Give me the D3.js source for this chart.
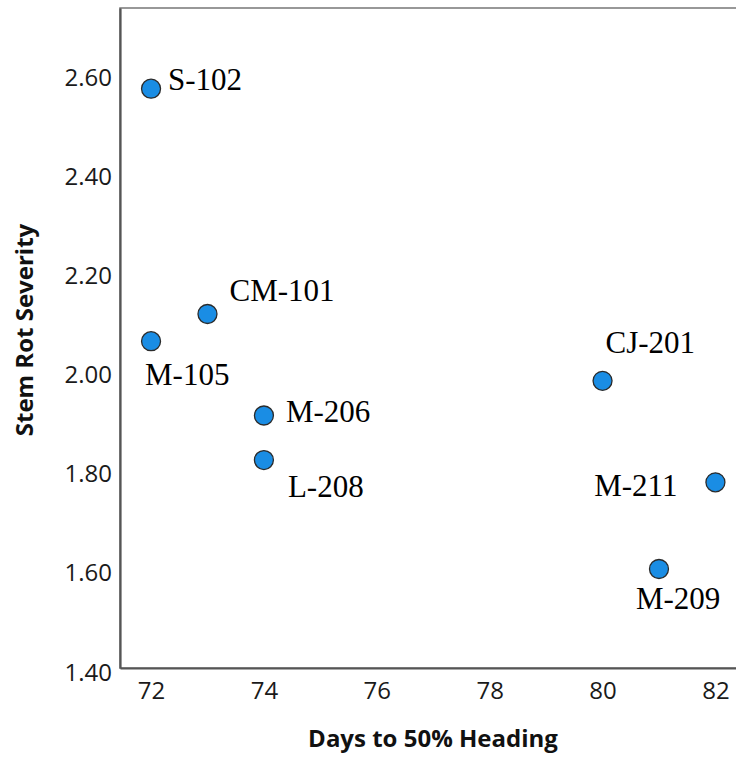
<!DOCTYPE html>
<html>
<head>
<meta charset="utf-8">
<script src="https://cdn.jsdelivr.net/npm/d3@7"></script>
<style>
  body { margin: 0; background: #fff; }
  svg { display: block; }
</style>
</head>
<body>
<div id="vis"></div>
<script>
var width = 736;
var height = 758;

// data
const varieties = ["S-102", "CM-101", "M-105", "M-206", "L-208", "CJ-201", "M-211", "M-209"];
const daysToHeading = [72, 73, 72, 74, 74, 80, 82, 81];
const stemRotSeverity = [2.57, 2.115, 2.06, 1.91, 1.82, 1.98, 1.775, 1.60];
const xTicks = [72, 74, 76, 78, 80, 82];
const yTicks = [1.4, 1.6, 1.8, 2.0, 2.2, 2.4, 2.6];

// where each label sits next to its point (px from the point centre)
const labelOffset = {
  "S-102": [17, 1, "start"],
  "CM-101": [22, -13, "start"],
  "M-105": [-6, 44, "start"],
  "M-206": [22, 7, "start"],
  "L-208": [24, 37, "start"],
  "CJ-201": [3, -28, "start"],
  "M-211": [-38, 14, "end"],
  "M-209": [-23, 40, "start"]
};

var svg = d3.select("#vis").append("svg")
  .attr("width", width)
  .attr("height", height);

var xScale = d3.scaleLinear().domain([71.45, 82.4]).range([120, 738]);
var yScale = d3.scaleLinear().domain([1.4, 2.733]).range([668, 8]);

var data = varieties.map(function (d, i) {
  return { name: d, x: daysToHeading[i], y: stemRotSeverity[i] };
});

// frame (right side runs off the page)
svg.append("rect")
  .attr("x", xScale(71.45))
  .attr("y", yScale(2.733))
  .attr("width", 640)
  .attr("height", yScale(1.4) - yScale(2.733))
  .attr("fill", "none")
  .attr("stroke", "#777")
  .attr("stroke-width", 1.5);

// axes
var xAxis = svg.append("g")
  .attr("transform", "translate(0," + yScale(1.4) + ")")
  .call(d3.axisBottom(xScale).tickValues(xTicks).tickSize(0).tickPadding(14));

var yAxis = svg.append("g")
  .attr("transform", "translate(" + xScale(71.45) + ",0)")
  .call(d3.axisLeft(yScale).tickValues(yTicks).tickSize(0).tickPadding(8)
    .tickFormat(d3.format(".2f")));

[xAxis, yAxis].forEach(function (ax) {
  ax.select(".domain").attr("stroke", "#555").attr("stroke-width", 2.2);
  ax.selectAll("text")
    .attr("font-family", "'Open Sans', sans-serif")
    .attr("font-size", 24)
    .attr("fill", "#1a1a1a");
});
xAxis.selectAll("text").attr("dy", "0.71em");
yAxis.selectAll("text").attr("dy", "0.5em");

// axis titles
svg.append("text")
  .attr("x", 433)
  .attr("y", 747)
  .attr("text-anchor", "middle")
  .attr("font-family", "'Open Sans', sans-serif")
  .attr("font-weight", "bold")
  .attr("font-size", 24)
  .attr("fill", "#111")
  .text("Days to 50% Heading");

svg.append("text")
  .attr("transform", "translate(33,330) rotate(-90)")
  .attr("text-anchor", "middle")
  .attr("font-family", "'Open Sans', sans-serif")
  .attr("font-weight", "bold")
  .attr("font-size", 24)
  .attr("fill", "#111")
  .text("Stem Rot Severity");

// points
svg.selectAll(".dot")
  .data(data)
  .enter()
  .append("circle")
  .attr("class", "dot")
  .attr("cx", function (d) { return xScale(d.x); })
  .attr("cy", function (d) { return yScale(d.y); })
  .attr("r", 9.5)
  .attr("fill", "#1a8de4")
  .attr("stroke", "#2b2b2b")
  .attr("stroke-width", 1.3);

// point labels
svg.selectAll(".lbl")
  .data(data)
  .enter()
  .append("text")
  .attr("class", "lbl")
  .attr("x", function (d) { return xScale(d.x) + labelOffset[d.name][0]; })
  .attr("y", function (d) { return yScale(d.y) + labelOffset[d.name][1]; })
  .attr("text-anchor", function (d) { return labelOffset[d.name][2]; })
  .attr("font-family", "'Liberation Serif', serif")
  .attr("font-size", 31)
  .attr("fill", "#000")
  .text(function (d) { return d.name; });
</script>
</body>
</html>
